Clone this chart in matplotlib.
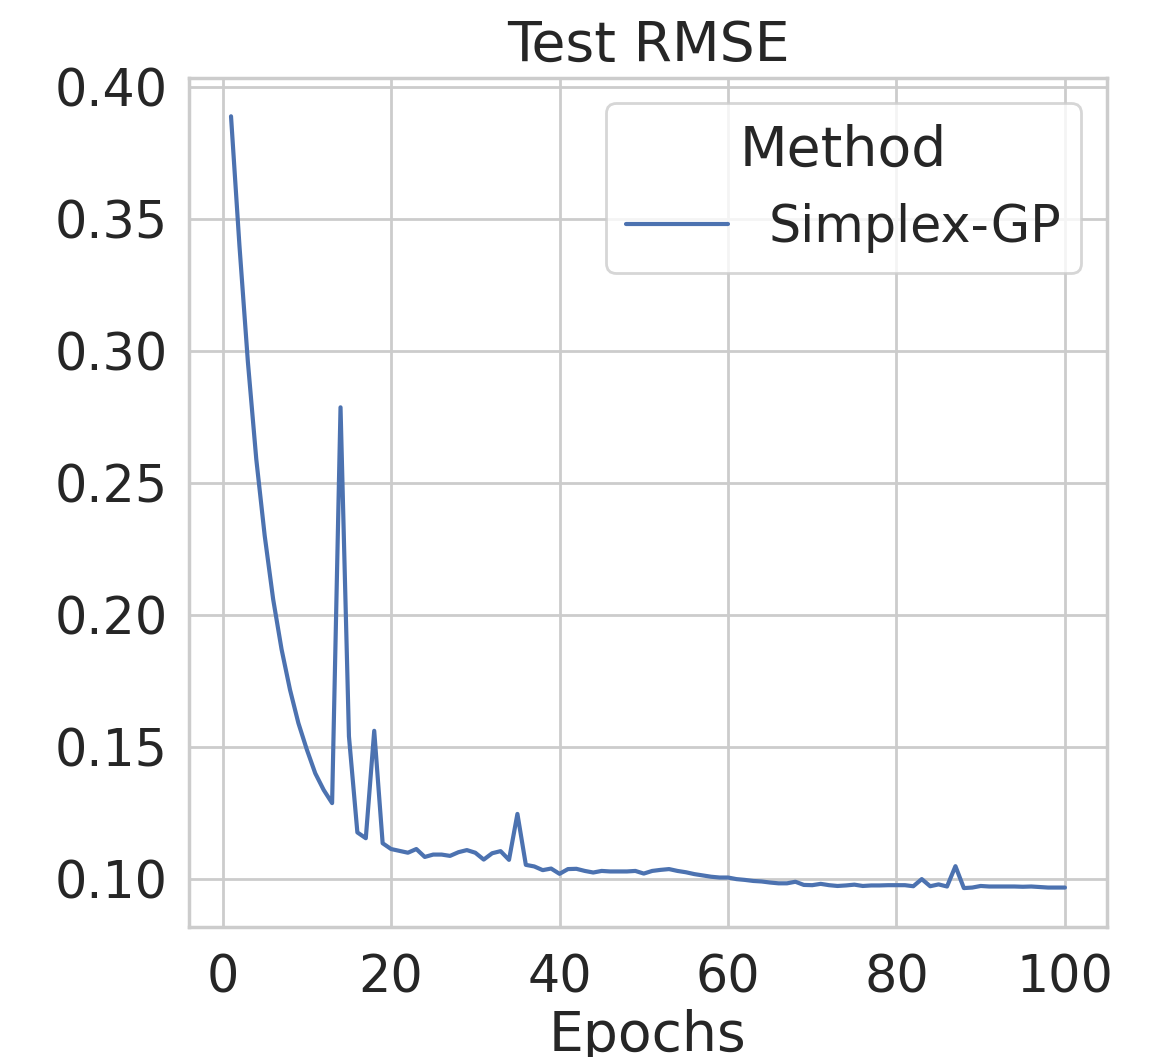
import matplotlib
matplotlib.use("Agg")
import matplotlib.pyplot as plt
import seaborn as sns

# test rmse per epoch
epochs = list(range(1, 101))
rmse = [
    0.389, 0.340, 0.296, 0.259, 0.230, 0.206, 0.187, 0.1717, 0.159, 0.149,
    0.140, 0.1337, 0.1287, 0.2787, 0.1540, 0.1176, 0.1154, 0.1561, 0.1135, 0.1113,
    0.1106, 0.1099, 0.1113, 0.1083, 0.1092, 0.1092, 0.1087, 0.1101, 0.1109, 0.1099,
    0.1073, 0.1097, 0.1105, 0.1072, 0.1246, 0.1053, 0.1047, 0.1033, 0.1039, 0.1019,
    0.1037, 0.1038, 0.1030, 0.1024, 0.1030, 0.1028, 0.1028, 0.1028, 0.1030, 0.1020,
    0.1030, 0.1034, 0.1037, 0.1030, 0.1025, 0.1018, 0.1013, 0.1008, 0.1005, 0.1005,
    0.0999, 0.0996, 0.0992, 0.0990, 0.0986, 0.0983, 0.0983, 0.0989, 0.0977, 0.0976,
    0.0981, 0.0976, 0.0973, 0.0975, 0.0978, 0.0973, 0.0975, 0.0975, 0.0976, 0.0976,
    0.0976, 0.0972, 0.0999, 0.0972, 0.0979, 0.0971, 0.1048, 0.0965, 0.0967, 0.0973,
    0.0971, 0.0971, 0.0971, 0.0971, 0.0970, 0.0971, 0.0969, 0.0967, 0.0967, 0.0967,
]
method = "Simplex-GP"

sns.set_theme(style="whitegrid", context="notebook", font_scale=1.66)

fig = plt.figure(figsize=(5.765, 5.285), dpi=200)
ax = fig.add_subplot(111)
fig.subplots_adjust(left=0.1642, right=0.9598, top=0.9265, bottom=0.1233)

ax.plot(epochs, rmse, color=sns.color_palette("deep")[0], label=method)
ax.set_title("Test RMSE")
ax.set_xlabel("Epochs", labelpad=2)
ax.set_xticks([0, 20, 40, 60, 80, 100])
ax.tick_params(axis="y", pad=max(plt.rcParams["ytick.major.pad"] - 1.8, 0.5))
ax.legend(title="Method", loc="upper right")

fig.savefig("out.png", dpi=200)
